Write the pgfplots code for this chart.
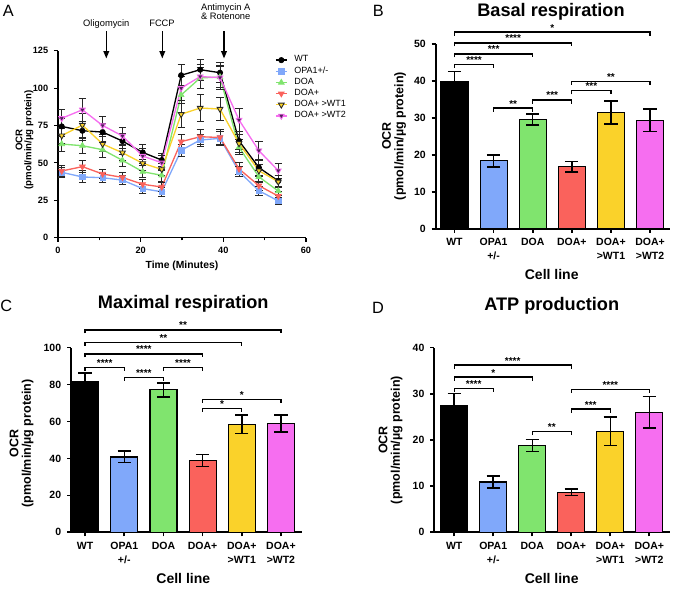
\documentclass[border=0pt]{standalone}
\usepackage{fontspec}
\setmainfont{Liberation Sans}
\usepackage{pgfplots}
\pgfplotsset{compat=1.18}
\usetikzlibrary{arrows.meta}

\definecolor{cBlue}{RGB}{128,168,250}
\definecolor{cGreen}{RGB}{128,228,110}
\definecolor{cRed}{RGB}{250,98,92}
\definecolor{cYellow}{RGB}{250,210,42}
\definecolor{cMag}{RGB}{246,110,240}
\definecolor{cPurp}{RGB}{80,35,90}

% significance bracket: from x1 to x2, star text centred at xm, height y
\newcommand\sig[5]{%
  \draw[line width=0.8pt] (axis cs:#1,#4) ++(0pt,-2.1pt) -- ++(0pt,2.1pt) -- (axis cs:#2,#4) -- ++(0pt,-2.1pt);
  \node[font=\bfseries\fontsize{6}{6}\selectfont, anchor=base, inner sep=0pt, yshift=0.6pt] at (axis cs:#3,#4) {#5};}

\pgfplotsset{
  panel/.style={
    scale only axis, anchor=south west,
    axis lines=left, axis line style={-, line width=1.1pt},
    tick align=outside, major tick length=2.4pt,
    tick style={black, line width=1pt},
    /pgf/number format/assume math mode=true,
    clip=false,
  },
  barpanel/.style={panel,
    ymin=0, xmax=5.51,
    xtick={0,...,5},
    xticklabels={WT,{OPA1\\+/-},DOA,DOA+,{DOA+\\>WT1},{DOA+\\>WT2}},
    xticklabel style={font=\bfseries\fontsize{6.3}{8.2}\selectfont, align=center},
    yticklabel style={font=\bfseries\fontsize{6.3}{7}\selectfont},
    ybar, bar width=16.2pt, bar shift=0pt,
    every axis plot/.append style={draw=black, line width=0.7pt},
    error bars/y dir=both, error bars/y explicit,
    error bars/error bar style={line width=0.9pt, black},
    error bars/error mark options={rotate=90, mark size=4pt, line width=0.9pt, black},
  },
}

\begin{document}
\begin{tikzpicture}
\useasboundingbox (0,0) rectangle (409.8pt,-356.4pt);

% ---------------- A: OCR time course
\begin{axis}[panel, at={(34.8pt,-142.62pt)}, width=148.8pt, height=112.2pt,
  xmin=0, xmax=60, ymin=0, ymax=125,
  xtick={0,20,40,60}, minor xtick={10,30,50}, ytick={0,25,...,125},
  axis line style={line width=0.9pt}, tick style={line width=0.7pt},
  minor tick length=1.6pt,
  ticklabel style={font=\bfseries\fontsize{5.5}{6}\selectfont},
  error bars/y dir=both, error bars/y explicit,
  error bars/error bar style={line width=0.6pt, black!85},
  error bars/error mark options={rotate=90, mark size=2.2pt, line width=0.6pt, black!85},
  legend style={at={(axis description cs:0.875,0.98)}, anchor=north west,
    draw=none, fill=none, font=\fontsize{5.4}{6}\selectfont,
    row sep=0.2pt, inner sep=0pt, nodes={inner sep=0.6pt}},
  legend cell align=left,
  legend image code/.code={\draw[mark repeat=2,mark phase=2] plot coordinates {(0pt,0pt)(3.2pt,0pt)(6.4pt,0pt)}; \path (10pt,0pt);},
]
\addplot[black, line width=0.8pt, mark=*, mark size=1.6pt, mark options={line width=0.4pt}] coordinates {
 (0.9,74.4) +- (0,5.5) (5.9,71.5) +- (0,6.5) (10.8,70.6) +- (0,6) (15.6,64.6) +- (0,5)
 (20.5,57.0) +- (0,5) (25.1,51.9) +- (0,4.5) (29.8,108.6) +- (0,7) (34.4,112.3) +- (0,7)
 (39.2,110.3) +- (0,6.5) (43.8,64.7) +- (0,6) (48.6,46.9) +- (0,5) (53.3,37.9) +- (0,4)};
\addlegendentry{WT}
\addplot[cBlue, line width=0.8pt, mark=square*, mark size=1.6pt, mark options={line width=0.4pt}] coordinates {
 (0.9,43.7) +- (0,3.5) (5.9,40.6) +- (0,4) (10.8,40.1) +- (0,3) (15.6,38.5) +- (0,3)
 (20.5,32.8) +- (0,3) (25.1,30.7) +- (0,3) (29.8,58.4) +- (0,4) (34.4,65.3) +- (0,4)
 (39.2,66.4) +- (0,4.5) (43.8,44.2) +- (0,3.5) (48.6,31.4) +- (0,3) (53.3,24.6) +- (0,2.5)};
\addlegendentry{OPA1+/-}
\addplot[cGreen, line width=0.8pt, mark=triangle*, mark size=2pt, mark options={line width=0.4pt}] coordinates {
 (0.9,62.6) +- (0,5) (5.9,61.5) +- (0,5) (10.8,58.8) +- (0,5) (15.6,51.7) +- (0,4)
 (20.5,44.1) +- (0,4) (25.1,41.7) +- (0,4) (29.8,95.4) +- (0,6) (34.4,106.8) +- (0,7)
 (39.2,107.4) +- (0,7) (43.8,60.5) +- (0,5) (48.6,40.7) +- (0,4) (53.3,31.2) +- (0,3)};
\addlegendentry{DOA}
\addplot[cRed, line width=0.8pt, mark=triangle*, mark size=2pt, mark options={rotate=180, line width=0.4pt}] coordinates {
 (0.9,44.6) +- (0,4) (5.9,47.5) +- (0,4) (10.8,42.6) +- (0,3) (15.6,40.3) +- (0,3)
 (20.5,35.7) +- (0,3) (25.1,33.9) +- (0,3) (29.8,64.2) +- (0,5) (34.4,67.5) +- (0,5)
 (39.2,67.0) +- (0,5) (43.8,46.0) +- (0,4) (48.6,34.8) +- (0,3) (53.3,27.8) +- (0,3)};
\addlegendentry{DOA+}
\addplot[cYellow, line width=0.8pt, mark=triangle*, mark size=2pt, mark options={rotate=180, fill=cYellow, draw=black!85, line width=0.5pt}] coordinates {
 (0.9,68.2) +- (0,5) (5.9,75.3) +- (0,8) (10.8,62.6) +- (0,5) (15.6,56.8) +- (0,5)
 (20.5,49.7) +- (0,5) (25.1,45.7) +- (0,4) (29.8,82.5) +- (0,9) (34.4,86.7) +- (0,9)
 (39.2,86.0) +- (0,7.5) (43.8,63.0) +- (0,6) (48.6,44.8) +- (0,4) (53.3,37.4) +- (0,4)};
\addlegendentry{DOA+ >WT1}
\addplot[cMag, line width=0.8pt, mark=triangle*, mark size=2pt, mark options={rotate=180, fill=cPurp, draw=cMag, line width=0.5pt}] coordinates {
 (0.9,79.8) +- (0,6) (5.9,85.5) +- (0,7.5) (10.8,75.0) +- (0,6) (15.6,68.0) +- (0,6)
 (20.5,54.6) +- (0,5) (25.1,50.1) +- (0,5) (29.8,100.0) +- (0,8) (34.4,107.7) +- (0,8)
 (39.2,107.0) +- (0,8) (43.8,78.7) +- (0,7.8) (48.6,58.2) +- (0,6) (53.3,44.8) +- (0,5)};
\addlegendentry{DOA+ >WT2}
\end{axis}

% ---------------- B: basal respiration
\begin{axis}[barpanel, at={(261.42pt,-137.22pt)}, width=140.58pt, height=110.64pt,
  xmin=-0.48, ymax=50, ytick={0,10,...,50}]
\addplot[fill=black] coordinates {(0,39.9) +- (0,2.7)};
\addplot[fill=cBlue] coordinates {(1,18.4) +- (0,1.6)};
\addplot[fill=cGreen] coordinates {(2,29.6) +- (0,1.5)};
\addplot[fill=cRed] coordinates {(3,16.8) +- (0,1.45)};
\addplot[fill=cYellow] coordinates {(4,31.5) +- (0,3.1)};
\addplot[fill=cMag] coordinates {(5,29.4) +- (0,3.0)};
\sig{0}{5}{2.5}{53.3}{*}
\sig{0}{3}{1.5}{50.4}{****}
\sig{0}{2}{1}{47.4}{***}
\sig{0}{1}{0.5}{44.6}{****}
\sig{1}{2}{1.5}{32.7}{**}
\sig{2}{3}{2.5}{34.9}{***}
\sig{3}{4}{3.5}{37.4}{***}
\sig{3}{5}{4}{40.0}{**}
\end{axis}

% ---------------- C: maximal respiration
\begin{axis}[barpanel, at={(42.6pt,-319.38pt)}, width=138.42pt, height=110.82pt,
  xmin=-0.36, xmax=5.53, ymax=100, ytick={0,20,...,100}]
\addplot[fill=black] coordinates {(0,81.6) +- (0,4.7)};
\addplot[fill=cBlue] coordinates {(1,40.8) +- (0,3.1)};
\addplot[fill=cGreen] coordinates {(2,77.1) +- (0,3.8)};
\addplot[fill=cRed] coordinates {(3,38.8) +- (0,3.3)};
\addplot[fill=cYellow] coordinates {(4,58.5) +- (0,4.9)};
\addplot[fill=cMag] coordinates {(5,59.0) +- (0,4.6)};
\sig{0}{5}{2.5}{109.6}{**}
\sig{0}{4}{2}{102.9}{**}
\sig{0}{3}{1.5}{96.6}{****}
\sig{0}{1}{0.5}{89.2}{****}
\sig{2}{3}{2.5}{89.2}{****}
\sig{1}{2}{1.5}{83.9}{****}
\sig{3}{5}{4}{72.0}{*}
\sig{3}{4}{3.5}{67.1}{*}
\end{axis}

% ---------------- D: ATP production
\begin{axis}[barpanel, at={(260.58pt,-319.38pt)}, width=141.42pt, height=110.82pt,
  xmin=-0.51, xmax=5.53, ymax=40, ytick={0,10,...,40}]
\addplot[fill=black] coordinates {(0,27.4) +- (0,2.7)};
\addplot[fill=cBlue] coordinates {(1,10.9) +- (0,1.25)};
\addplot[fill=cGreen] coordinates {(2,18.8) +- (0,1.25)};
\addplot[fill=cRed] coordinates {(3,8.7) +- (0,0.7)};
\addplot[fill=cYellow] coordinates {(4,21.9) +- (0,3.1)};
\addplot[fill=cMag] coordinates {(5,26.0) +- (0,3.4)};
\sig{0}{3}{1.5}{36.2}{****}
\sig{0}{2}{1}{33.6}{*}
\sig{0}{1}{0.5}{31.2}{****}
\sig{3}{5}{4}{31.0}{****}
\sig{3}{4}{3.5}{26.7}{***}
\sig{2}{3}{2.5}{21.8}{**}
\end{axis}

% ---------------- text placed in image pixels
\begin{scope}[x=0.6pt,y=-0.6pt]
\tikzset{lett/.style={anchor=base west, inner sep=0pt, font=\fontsize{9.8}{10}\selectfont},
  ttl/.style={anchor=base, inner sep=0pt, font=\bfseries\fontsize{10.9}{12}\selectfont},
  xlab/.style={anchor=base, inner sep=0pt, font=\bfseries\fontsize{8.4}{9}\selectfont},
  ylab/.style={rotate=90, align=center, inner sep=0pt, font=\bfseries\fontsize{7.5}{7.5}\selectfont},
  drug/.style={anchor=base, inner sep=0pt, align=center, font=\fontsize{5.6}{5.4}\selectfont}}
\node[lett] at (2.5,16.7) {A};
\node[lett] at (372.5,16) {B};
\node[lett] at (0,311.7) {C};
\node[lett] at (371.7,313) {D};
\node[ttl] at (551,16) {Basal respiration};
\node[ttl] at (183.3,308) {Maximal respiration};
\node[ttl] at (551.7,310) {ATP production};
\node[xlab, font=\bfseries\fontsize{6.2}{7}\selectfont] at (182,268) {Time (Minutes)};
\node[xlab] at (551.7,279.3) {Cell line};
\node[xlab] at (183.3,583.3) {Cell line};
\node[xlab] at (551.7,583.3) {Cell line};
\node[ylab, font=\bfseries\fontsize{5.8}{5.4}\selectfont] at (24.5,140) {OCR\\(pmol/min/µg protein)};
\node[ylab] at (394,136) {OCR\\(pmol/min/µg protein)};
\node[ylab] at (21.5,443.5) {OCR\\(pmol/min/µg protein)};
\node[ylab] at (390.5,440) {OCR\\(pmol/min/µg protein)};
\node[drug] at (106.3,26.5) {Oligomycin};
\node[drug] at (162,26.5) {FCCP};
\node[drug] at (225.7,19.3) {Antimycin A\\\& Rotenone};
\foreach \ax in {106.3,162.3,224}
  \draw[line width=0.9pt, -{Triangle[length=4.5pt,width=3.4pt]}] (\ax,31) -- (\ax,58.5);
\end{scope}
\end{tikzpicture}
\end{document}
